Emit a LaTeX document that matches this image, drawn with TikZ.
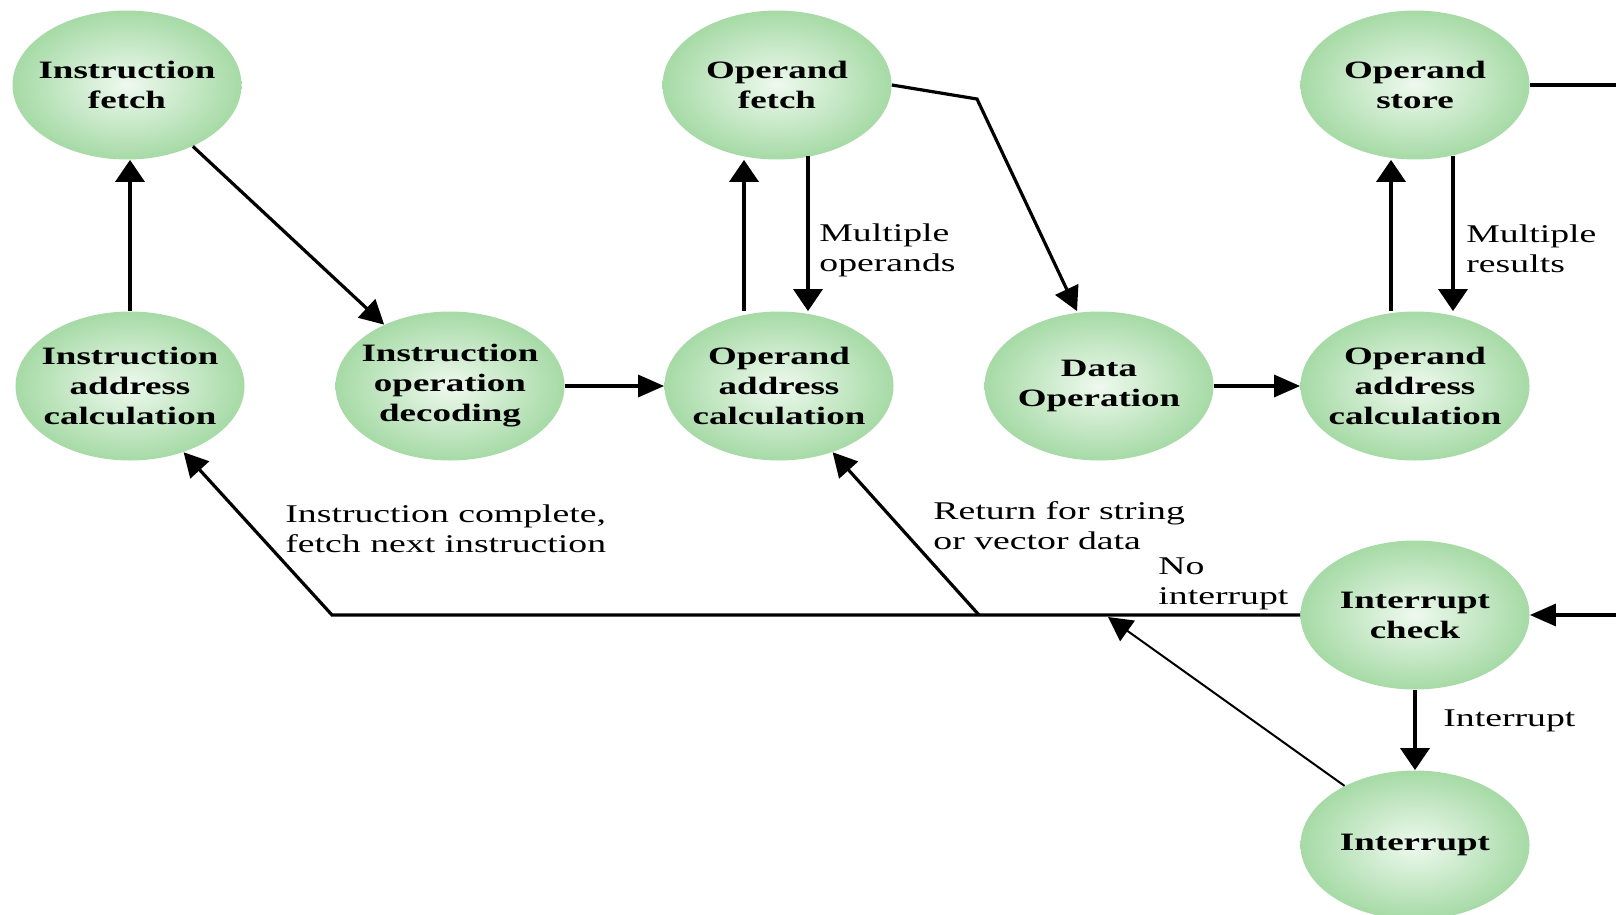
\documentclass[tikz,border=0pt]{standalone}
\usepackage{fontspec}
\setmainfont{Liberation Serif}[FakeStretch=1.48]
\usetikzlibrary{arrows.meta,shapes.geometric,calc}

\definecolor{stateIn}{RGB}{238,249,238}
\definecolor{stateOut}{RGB}{166,218,166}

\begin{document}
\begin{tikzpicture}[x=0.5pt,y=-0.5pt,
  state/.style={ellipse, minimum width=114.5pt, minimum height=74.5pt,
    inner sep=0pt, inner xsep=-25pt, shading=radial,
    inner color=stateIn, outer color=stateOut, align=center,
    font=\fontsize{12.5}{15}\selectfont\bfseries},
  flow/.style={line width=1.6pt, -{Triangle[length=12pt,width=12.5pt]}},
  vflow/.style={line width=1.8pt, -{Triangle[length=11pt,width=14.5pt]}},
  hflow/.style={line width=1.6pt, -{Triangle[length=13pt,width=11pt]}},
  thinflow/.style={line width=1pt, -{Triangle[length=12pt,width=12.5pt]}},
  wire/.style={line width=1.6pt},
  lbl/.style={anchor=west, align=left, inner sep=0pt,
    font=\fontsize{12.75}{15}\selectfont}
]
% page area
\path[fill=white, use as bounding box] (0,0) rectangle (1616,915);

% states of the instruction cycle
\node[state] (ifetch) at (127,85)   {Instruction\\fetch};
\node[state] (iaddr)  at (130,386)  {Instruction\\address\\calculation};
\node[state] (idec)   at (450,386)  {Instruction\\operation\\decoding};
\node[state] (ofetch) at (777,85)   {Operand\\fetch};
\node[state] (oaddr)  at (779,386)  {Operand\\address\\calculation};
\node[state] (dataop) at (1099,386) {Data\\Operation};
\node[state] (ostore) at (1415,85)  {Operand\\store};
\node[state] (raddr)  at (1415,386) {Operand\\address\\calculation};
\node[state] (icheck) at (1415,615) {Interrupt\\check};
\node[state] (intr)   at (1415,845) {Interrupt};

% helper points
\coordinate (kink)  at (977,99);
\coordinate (rtop)  at (1616,85);
\coordinate (rmid)  at (1616,615);
\coordinate (retI)  at (332,615);
\coordinate (retO)  at (979,615);
\coordinate (noint) at (1108,617);

% instruction part
\draw[vflow] (iaddr.north) -- (iaddr.north |- ifetch.south);
\draw[flow] (ifetch) -- (idec);
\draw[hflow] (idec) -- (oaddr);

% operand fetch loop
\draw[vflow] ([xshift=-17.5pt]oaddr.north) -- ([xshift=-17.5pt]oaddr.north |- ofetch.south);
\draw[vflow] ([xshift=15.5pt,yshift=2pt]ofetch.south) -- ([xshift=15.5pt]ofetch.south |- oaddr.north);
\node[lbl] (mops) at (819,250) {Multiple\\operands};

% data operation
\draw[flow] (ofetch.east) -- (kink) -- ([xshift=-11pt]dataop.north);
\draw[hflow] (dataop) -- (raddr);

% operand store loop
\draw[vflow] ([xshift=-12pt]raddr.north) -- ([xshift=-12pt]raddr.north |- ostore.south);
\draw[vflow] ([xshift=19pt,yshift=2pt]ostore.south) -- ([xshift=19pt]ostore.south |- raddr.north);
\node[lbl] (mres) at (1466,249) {Multiple\\results};

% wrap-around to interrupt check
\draw[wire] (ostore.east) -- (rtop);
\draw[hflow] (rmid) -- (icheck.east);

% interrupt handling
\draw[vflow] (icheck.south) -- (intr.north);
\node[lbl] (lint) at (1443,721) {Interrupt};

% return paths
\draw[flow] (icheck.west) -- (retI) -- (iaddr.-51);
\draw[flow] (retO) -- (oaddr.-51);
\draw[thinflow] (intr.140) -- (noint);

\node[lbl] (ldone)  at (285,529) {Instruction complete,\\fetch next instruction};
\node[lbl] (lret)   at (933,526) {Return for string\\or vector data};
\node[lbl] (lnoint) at (1158,584) {No\\interrupt};
\end{tikzpicture}
\end{document}
